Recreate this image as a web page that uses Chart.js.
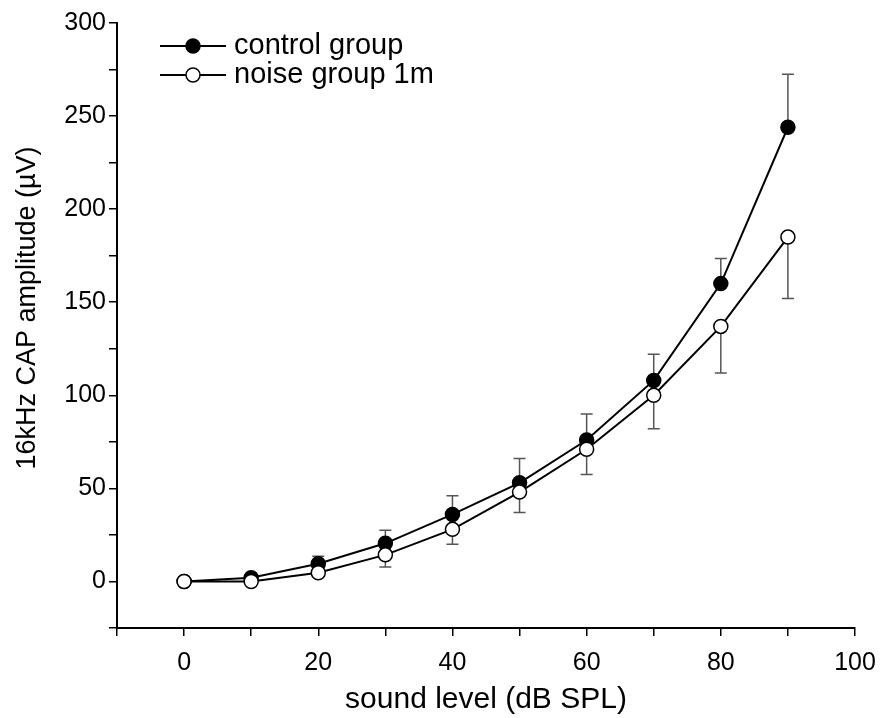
<!DOCTYPE html>
<html>
<head>
<meta charset="utf-8">
<script src="https://cdn.jsdelivr.net/npm/chart.js@4.4.1/dist/chart.umd.min.js"></script>
<style>
  html, body { margin: 0; padding: 0; background: #fff; }
  #wrap { width: 883px; height: 718px; position: relative; }
</style>
</head>
<body>
<div id="wrap"><canvas id="c" width="883" height="718"></canvas></div>
<script>
// ---- data ----
const soundLevels = [0, 10, 20, 30, 40, 50, 60, 70, 80, 90];
const controlMeans = [0, 2, 9.5, 20.5, 36, 53, 76, 108, 160, 244];
const controlErrUp = [0.5, 1, 4, 7, 10, 13, 14, 14, 13.5, 28.5];
const noiseMeans = [0, 0, 4.7, 14.3, 28, 48, 71, 100, 137, 185];
const noiseErrDown = [1.5, 1.5, 1.5, 6.5, 8, 11, 13.5, 18, 25, 33];
const seriesNames = ['control group', 'noise group 1m'];
const xTitle = 'sound level (dB SPL)';
const yTitle = '16kHz CAP amplitude (\u00B5V)';

const FONT = "'Liberation Sans', Arial, Helvetica, sans-serif";

function toPts(xs, ys) { return xs.map((x, i) => ({ x: x, y: ys[i] })); }

const errorBars = {
  id: 'errorBars',
  beforeDatasetsDraw(chart) {
    const ctx = chart.ctx;
    const xs = chart.scales.x, ys = chart.scales.y;
    ctx.save();
    ctx.strokeStyle = '#555';
    ctx.lineWidth = 1.5;
    const cap = 6;
    const draw = (x, y0, y1) => {
      const px = xs.getPixelForValue(x);
      const p0 = ys.getPixelForValue(y0);
      const p1 = ys.getPixelForValue(y1);
      ctx.beginPath();
      ctx.moveTo(px, p0); ctx.lineTo(px, p1);
      ctx.moveTo(px - cap, p1); ctx.lineTo(px + cap, p1);
      ctx.stroke();
    };
    soundLevels.forEach((x, i) => {
      draw(x, controlMeans[i], controlMeans[i] + controlErrUp[i]);
      draw(x, noiseMeans[i], noiseMeans[i] - noiseErrDown[i]);
    });
    ctx.restore();
  }
};

const legendPlugin = {
  id: 'customLegend',
  afterDraw(chart) {
    const ctx = chart.ctx;
    ctx.save();
    const items = [
      { text: seriesNames[0], fill: '#000', y: 46 },
      { text: seriesNames[1], fill: '#fff', y: 75 }
    ];
    items.forEach(it => {
      ctx.strokeStyle = '#000';
      ctx.lineWidth = 2;
      ctx.beginPath();
      ctx.moveTo(160, it.y); ctx.lineTo(226, it.y);
      ctx.stroke();
      ctx.beginPath();
      ctx.arc(193, it.y, 7, 0, Math.PI * 2);
      ctx.fillStyle = it.fill;
      ctx.fill();
      ctx.lineWidth = 1.5;
      ctx.stroke();
      ctx.fillStyle = '#000';
      ctx.font = '29px ' + FONT;
      ctx.textBaseline = 'middle';
      ctx.textAlign = 'left';
      ctx.fillText(it.text, 234, it.y);
    });
    // y-axis title
    ctx.save();
    ctx.translate(28, 308);
    ctx.rotate(-Math.PI / 2);
    ctx.font = '27px ' + FONT;
    ctx.textAlign = 'center';
    ctx.textBaseline = 'middle';
    ctx.fillText(yTitle, 0, 0);
    ctx.restore();
    ctx.restore();
  }
};

new Chart(document.getElementById('c'), {
  type: 'scatter',
  data: {
    datasets: [
      {
        label: seriesNames[0],
        data: toPts(soundLevels, controlMeans),
        showLine: true,
        borderColor: '#000',
        borderWidth: 2,
        backgroundColor: '#000',
        pointBackgroundColor: '#000',
        pointBorderColor: '#000',
        pointBorderWidth: 1.5,
        pointRadius: 7,
        order: 2
      },
      {
        label: seriesNames[1],
        data: toPts(soundLevels, noiseMeans),
        showLine: true,
        borderColor: '#000',
        borderWidth: 2,
        backgroundColor: '#fff',
        pointBackgroundColor: '#fff',
        pointBorderColor: '#000',
        pointBorderWidth: 1.5,
        pointRadius: 7,
        order: 1
      }
    ]
  },
  options: {
    responsive: false,
    animation: false,
    devicePixelRatio: 1,
    layout: { padding: { top: 23, right: 28, left: 0, bottom: 0 } },
    plugins: { legend: { display: false }, tooltip: { enabled: false } },
    scales: {
      x: {
        type: 'linear',
        min: -10, max: 100,
        afterFit(s) { s.height = 90; s.paddingLeft = 0; s.paddingRight = 0; },
        border: { color: '#000', width: 2 },
        grid: { drawOnChartArea: false, drawTicks: true, tickLength: 8, color: '#000', lineWidth: 1.5 },
        ticks: {
          stepSize: 10,
          color: '#000',
          padding: 12,
          maxRotation: 0,
          autoSkip: false,
          font: { family: FONT, size: 25 },
          callback: v => (v % 20 === 0 ? String(v) : '')
        },
        title: {
          display: true, text: xTitle, color: '#000',
          font: { family: FONT, size: 30 }, padding: { top: 0, bottom: 0 }
        }
      },
      y: {
        type: 'linear',
        min: -25, max: 300,
        afterFit(s) { s.width = 117; s.paddingTop = 0; s.paddingBottom = 0; },
        border: { color: '#000', width: 2 },
        grid: { drawOnChartArea: false, drawTicks: true, tickLength: 8, color: '#000', lineWidth: 1.5 },
        ticks: {
          stepSize: 25,
          color: '#000',
          padding: 3,
          autoSkip: false,
          font: { family: FONT, size: 25 },
          callback: v => (v % 50 === 0 ? String(v) : '')
        },
        title: { display: false }
      }
    }
  },
  plugins: [errorBars, legendPlugin]
});
</script>
</body>
</html>
